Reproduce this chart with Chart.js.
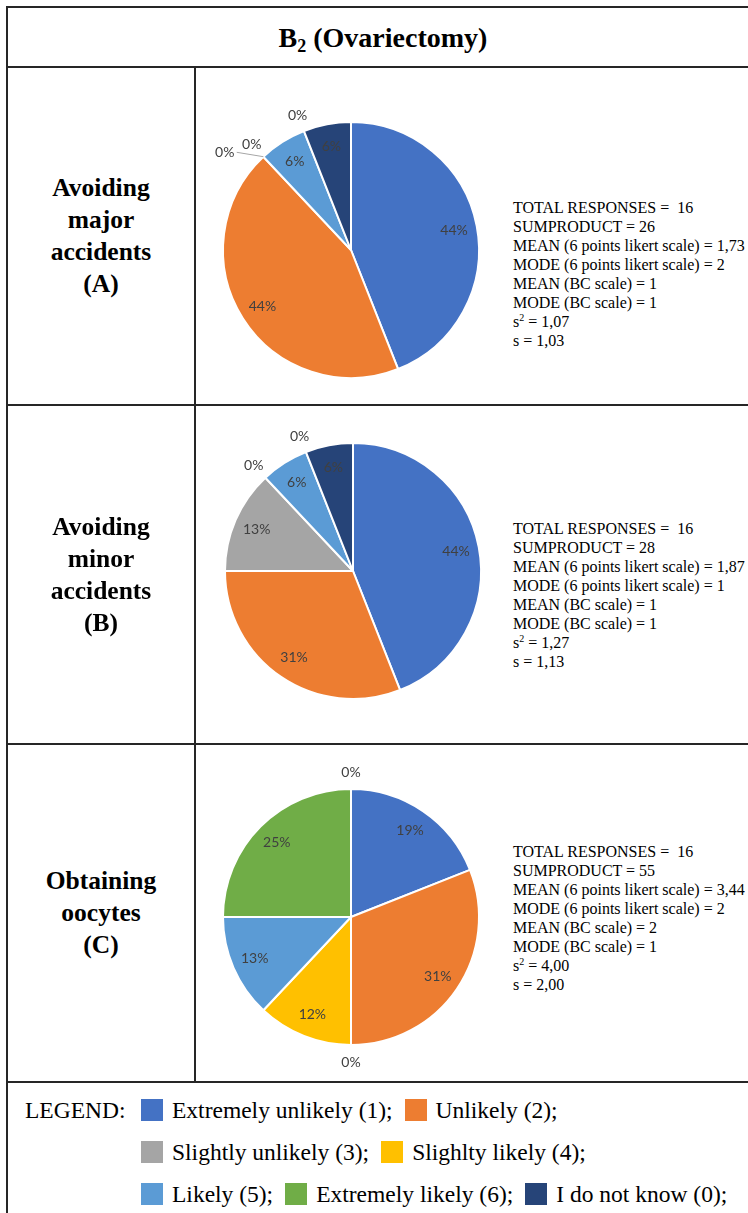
<!DOCTYPE html>
<html>
<head>
<meta charset="utf-8">
<script src="https://cdn.jsdelivr.net/npm/chart.js@4/dist/chart.umd.min.js"></script>
<style>
  html, body { margin: 0; padding: 0; background: #fff; overflow: hidden; }
  body { width: 748px; height: 1213px; position: relative; font-family: "Liberation Serif", "Times New Roman", "DejaVu Serif", serif; color: #000; }
  .line { position: absolute; background: #262626; }
  .title { position: absolute; left: 7px; width: 752px; top: 8px; height: 59px; line-height: 59px; text-align: center; font-family: "Liberation Serif", serif; font-weight: bold; font-size: 28px; }
  .title sub { font-size: 18px; vertical-align: -5px; line-height: 0; }
  .rowlabel { position: absolute; left: 7px; width: 188px; display: flex; align-items: center; justify-content: center; text-align: center; font-family: "Liberation Serif", serif; font-weight: bold; font-size: 25.5px; line-height: 32px; }
  .stats { position: absolute; left: 513px; font-family: "Liberation Serif", serif; font-size: 16px; line-height: 19px; white-space: pre; }
  .stats sup { font-size: 10px; line-height: 0; vertical-align: 6px; }
  .pie { position: absolute; width: 320px; height: 320px; }
  .legend-row { position: absolute; left: 25px; height: 30px; display: flex; align-items: center; font-family: "Liberation Serif", serif; font-size: 23.5px; white-space: pre; }
  .legend-head { width: 116px; }
  .swatch { width: 22px; height: 22px; margin-right: 9px; flex: none; }
  .legend-text { margin-right: 12px; }
</style>
</head>
<body>
<div class="title">B<sub>2</sub> (Ovariectomy)</div>

<script>
// answer categories (legend order = slice order)
const categories = [
  "Extremely unlikely (1)",
  "Unlikely (2)",
  "Slightly unlikely (3)",
  "Slighlty likely (4)",
  "Likely (5)",
  "Extremely likely (6)",
  "I do not know (0)"
];
const sliceColors = ["#4472C4", "#ED7D31", "#A5A5A5", "#FFC000", "#5B9BD5", "#70AD47", "#264478"];

// percentages per question
const majorAccidents = [44, 44, 0, 0, 6, 0, 6];
const minorAccidents = [44, 31, 13, 0, 6, 0, 6];
const obtainingOocytes = [19, 31, 0, 12, 13, 25, 0];

const rowTitles = [
  ["Avoiding", "major", "accidents", "(A)"],
  ["Avoiding", "minor", "accidents", "(B)"],
  ["Obtaining", "oocytes", "(C)"]
];

const statsA = ["TOTAL RESPONSES =  16", "SUMPRODUCT = 26", "MEAN (6 points likert scale) = 1,73", "MODE (6 points likert scale) = 2", "MEAN (BC scale) = 1", "MODE (BC scale) = 1", "s2 = 1,07", "s = 1,03"];
const statsB = ["TOTAL RESPONSES =  16", "SUMPRODUCT = 28", "MEAN (6 points likert scale) = 1,87", "MODE (6 points likert scale) = 1", "MEAN (BC scale) = 1", "MODE (BC scale) = 1", "s2 = 1,27", "s = 1,13"];
const statsC = ["TOTAL RESPONSES =  16", "SUMPRODUCT = 55", "MEAN (6 points likert scale) = 3,44", "MODE (6 points likert scale) = 2", "MEAN (BC scale) = 2", "MODE (BC scale) = 1", "s2 = 4,00", "s = 2,00"];

// table geometry
const rows = [
  { top: 67, bottom: 405, cx: 351, cy: 250, statsTop: 198, data: majorAccidents, stats: statsA },
  { top: 405, bottom: 744, cx: 353, cy: 571, statsTop: 519, data: minorAccidents, stats: statsB },
  { top: 744, bottom: 1082, cx: 351, cy: 917, statsTop: 842, data: obtainingOocytes, stats: statsC }
];

function addLine(x, y, w, h) {
  const d = document.createElement("div");
  d.className = "line";
  d.style.left = x + "px";
  d.style.top = y + "px";
  d.style.width = w + "px";
  d.style.height = h + "px";
  document.body.appendChild(d);
}

// outer frame + row separators
addLine(6, 6, 760, 2);
addLine(6, 6, 2, 1220);
addLine(6, 66, 760, 2);
addLine(194, 66, 2, 1017);
rows.forEach((r) => addLine(6, r.bottom - 1, 760, 2));

// percentage labels: inside for slices, outside (with leader line when dodged) for zeros
const pieLabels = {
  id: "pieLabels",
  afterDatasetsDraw(chart) {
    const ctx = chart.ctx;
    const meta = chart.getDatasetMeta(0);
    const values = chart.data.datasets[0].data;
    ctx.save();
    ctx.font = "14px Lato, 'Open Sans', sans-serif";
    ctx.fillStyle = "#404040";
    ctx.textAlign = "center";
    ctx.textBaseline = "middle";
    meta.data.forEach((arc, i) => {
      const { x, y, startAngle, endAngle, outerRadius } = arc.getProps(["x", "y", "startAngle", "endAngle", "outerRadius"], true);
      const mid = (startAngle + endAngle) / 2;
      const text = values[i] + "%";
      if (values[i] > 0) {
        const d = outerRadius * 0.82;
        ctx.fillText(text, x + Math.cos(mid) * d, y + Math.sin(mid) * d);
        return;
      }
      // count zero slices following this one at the same angle
      let k = 0;
      for (let j = i + 1; j < values.length && values[j] === 0; j++) k++;
      const d = outerRadius + 17;
      let lx = x + Math.cos(mid) * d;
      let ly = y + Math.sin(mid) * d;
      if (k > 0) {
        const side = Math.cos(mid) < 0 ? -1 : 1;
        lx += side * 27 * k;
        ly += 8 * k;
        ctx.strokeStyle = "#a6a6a6";
        ctx.lineWidth = 1;
        ctx.beginPath();
        ctx.moveTo(x + Math.cos(mid) * outerRadius, y + Math.sin(mid) * outerRadius);
        ctx.lineTo(lx - side * 12, ly);
        ctx.stroke();
      }
      ctx.fillText(text, lx, ly);
    });
    ctx.restore();
  }
};

rows.forEach((r, idx) => {
  const label = document.createElement("div");
  label.className = "rowlabel";
  label.style.top = r.top + "px";
  label.style.height = (r.bottom - r.top) + "px";
  label.innerHTML = rowTitles[idx].join("<br>");
  document.body.appendChild(label);

  const stats = document.createElement("div");
  stats.className = "stats";
  stats.style.top = r.statsTop + "px";
  stats.innerHTML = r.stats
    .map((s) => s.replace(/^s2/, "s<sup>2</sup>"))
    .join("\n");
  document.body.appendChild(stats);

  const canvas = document.createElement("canvas");
  canvas.className = "pie";
  canvas.width = 320;
  canvas.height = 320;
  canvas.style.left = (r.cx - 160) + "px";
  canvas.style.top = (r.cy - 160) + "px";
  document.body.appendChild(canvas);

  new Chart(canvas.getContext("2d"), {
    type: "pie",
    data: {
      labels: categories,
      datasets: [{
        data: r.data,
        backgroundColor: sliceColors,
        borderColor: "#ffffff",
        borderWidth: 2,
        radius: 128
      }]
    },
    options: {
      responsive: false,
      animation: false,
      events: [],
      plugins: {
        legend: { display: false },
        tooltip: { enabled: false }
      }
    },
    plugins: [pieLabels]
  });
});

// legend at the bottom, three lines
const legendLines = [[0, 1], [2, 3], [4, 5, 6]];
legendLines.forEach((items, li) => {
  const row = document.createElement("div");
  row.className = "legend-row";
  row.style.top = (1095 + li * 42) + "px";
  const head = document.createElement("span");
  head.className = "legend-head";
  head.textContent = li === 0 ? "LEGEND:" : "";
  row.appendChild(head);
  items.forEach((i) => {
    const sw = document.createElement("span");
    sw.className = "swatch";
    sw.style.background = sliceColors[i];
    row.appendChild(sw);
    const t = document.createElement("span");
    t.className = "legend-text";
    t.textContent = categories[i] + ";";
    row.appendChild(t);
  });
  document.body.appendChild(row);
});
</script>
</body>
</html>
